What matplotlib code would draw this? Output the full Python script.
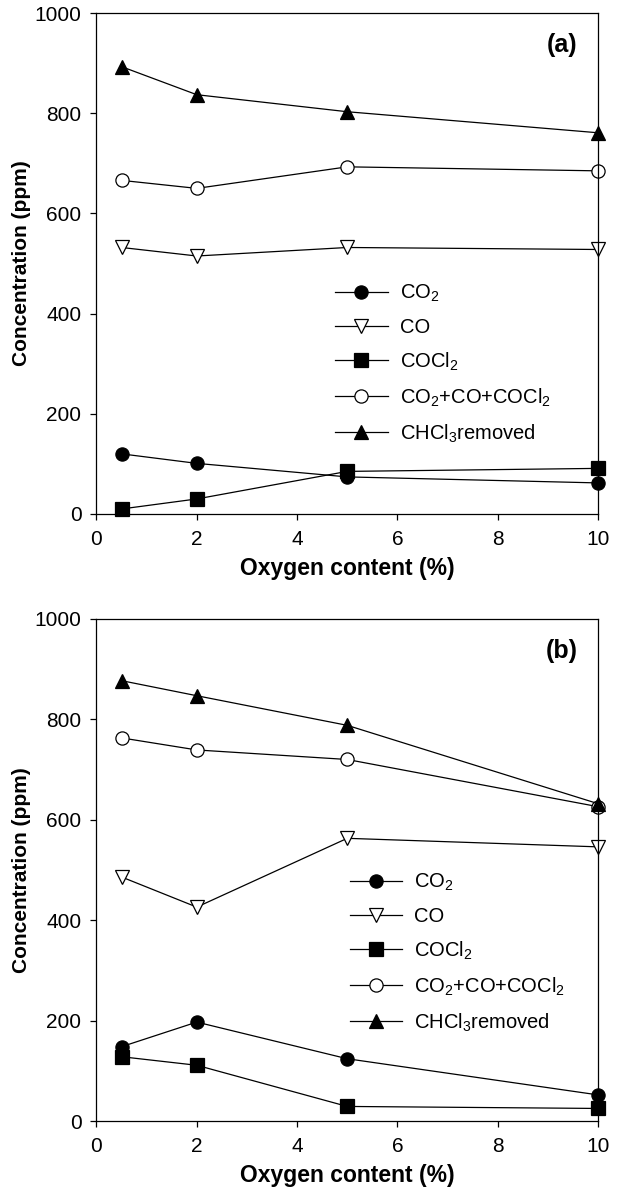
import matplotlib
matplotlib.use("Agg")
import matplotlib.pyplot as plt

plt.rcParams['font.family'] = ['Liberation Sans', 'DejaVu Sans']
plt.rcParams['mathtext.fontset'] = 'custom'
plt.rcParams['mathtext.rm'] = 'Liberation Sans'
plt.rcParams['mathtext.it'] = 'Liberation Sans:italic'
plt.rcParams['mathtext.bf'] = 'Liberation Sans:bold'

# Oxygen content (%)
oxygen = [0.5, 2, 5, 10]

# Panel (a) concentrations (ppm)
a_co2 = [120, 101, 74, 62]
a_co = [532, 515, 532, 528]
a_cocl2 = [10, 30, 85, 91]
a_sum = [666, 650, 693, 685]
a_chcl3 = [893, 837, 803, 761]

# Panel (b) concentrations (ppm)
b_co2 = [148, 197, 124, 52]
b_co = [486, 426, 563, 546]
b_cocl2 = [128, 111, 29, 25]
b_sum = [763, 739, 720, 626]
b_chcl3 = [877, 847, 788, 632]

series_labels = [r'CO$_2$', 'CO', r'COCl$_2$', r'CO$_2$+CO+COCl$_2$', r'CHCl$_3$removed']
x_ticks = [0, 2, 4, 6, 8, 10]
y_ticks = [0, 200, 400, 600, 800, 1000]

styles = [
    dict(marker='o', mfc='black', mec='black'),
    dict(marker='v', mfc='white', mec='black'),
    dict(marker='s', mfc='black', mec='black'),
    dict(marker='o', mfc='white', mec='black'),
    dict(marker='^', mfc='black', mec='black'),
]

fig = plt.figure(figsize=(6.2, 11.87), dpi=100)
ax_a = fig.add_axes([0.1556, 0.567, 0.809, 0.422])
ax_b = fig.add_axes([0.1556, 0.0556, 0.809, 0.423])


def draw_panel(ax, series, tag, legend_x, legend_y):
    for vals, lab, st in zip(series, series_labels, styles):
        ax.plot(oxygen, vals, color='black', lw=0.9, ms=9.5, mew=0.9,
                label=lab, clip_on=False, **st)
    ax.set_xlim(0, 10)
    ax.set_ylim(0, 1000)
    ax.set_xticks(x_ticks)
    ax.set_yticks(y_ticks)
    ax.tick_params(axis='both', direction='out', length=4.3, width=0.9,
                   labelsize=15)
    ax.tick_params(axis='x', pad=7)
    ax.tick_params(axis='y', pad=6.5)
    for sp in ax.spines.values():
        sp.set_linewidth(0.9)
    ax.set_xlabel('Oxygen content (%)', fontsize=16.5, fontweight='bold',
                  labelpad=6)
    ax.set_ylabel('Concentration (ppm)', fontsize=15, fontweight='bold',
                  labelpad=2.5)
    ax.text(0.928, 0.936, tag, transform=ax.transAxes, fontsize=18,
            fontweight='bold', ha='center', va='center')
    ax.legend(loc='center left', bbox_to_anchor=(legend_x, legend_y),
              frameon=False, fontsize=14.5, handlelength=2.6,
              handletextpad=0.6, labelspacing=0.68, borderpad=0,
              borderaxespad=0)


draw_panel(ax_a, [a_co2, a_co, a_cocl2, a_sum, a_chcl3], '(a)', 0.476, 0.30)
draw_panel(ax_b, [b_co2, b_co, b_cocl2, b_sum, b_chcl3], '(b)', 0.505, 0.335)

fig.savefig('out.png', dpi=100)
